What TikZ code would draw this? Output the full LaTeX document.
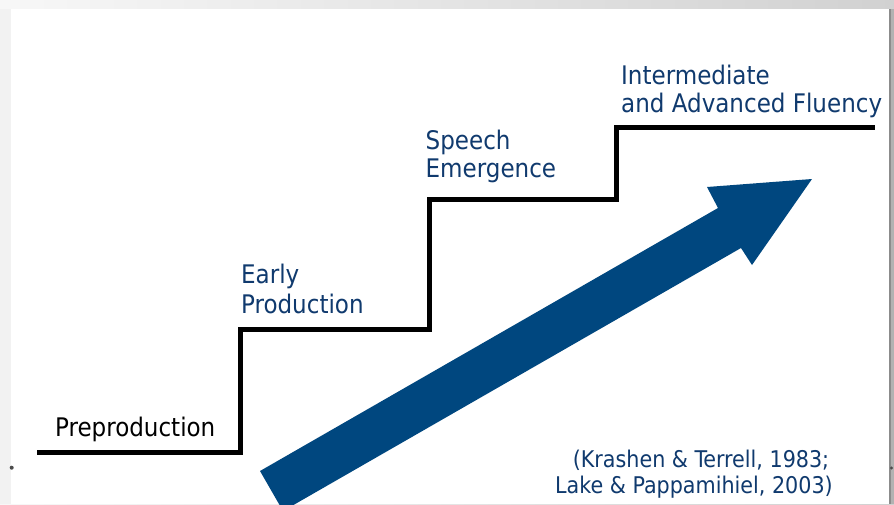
\documentclass[tikz,border=0pt]{standalone}
\usepackage{fontspec}
\setmainfont{DejaVu Sans Condensed}
\definecolor{navy}{RGB}{16,58,110}
\definecolor{arrowblue}{RGB}{0,71,127}
\begin{document}
\begin{tikzpicture}[x=1pt,y=-1pt,
  lbl/.style={font=\fontsize{25.6}{30}\selectfont, text=navy, anchor=base west, inner sep=0pt},
  cite/.style={font=\fontsize{23}{27}\selectfont, text=navy, anchor=base, inner sep=0pt},
  stair/.style={line width=5pt, black, line join=miter}]
\useasboundingbox (0,0) rectangle (894,504);
% slide frame
\shade[left color=black!3, right color=black!18] (0,0) rectangle (894,504);
\fill[black!5] (0,9) rectangle (11,504);
\fill[white] (11,9) rectangle (889,504);
\fill[black!45] (889,9) rectangle (890.5,504);
\fill[black!30] (890.5,9) rectangle (894,504);
\fill[black!70] (11.7,467.7) circle (2);
\fill[black!70] (891.5,468) circle (1.6);
% big arrow
\begin{scope}
\clip (11,9) rectangle (889,504);
\fill[arrowblue] (260,471) -- (718,208) -- (707,187) -- (812,179) -- (752,265)
  -- (741,248) -- (283,511) -- cycle;
\end{scope}
% stairs
\draw[stair] (37,452) -| (240.5,329.5) -| (429.5,199.5) -| (616,127.5) -- (875,127.5);
% labels
\node[lbl, text=black] (pre) at (55,436) {Preproduction};
\node[lbl] (early1) at (241,283) {Early};
\node[lbl] (early2) at (241,313) {Production};
\node[lbl] (speech1) at (425.5,149) {Speech};
\node[lbl] (speech2) at (425.5,177) {Emergence};
\node[lbl] (inter1) at (621,84) {Intermediate};
\node[lbl] (inter2) at (621,112) {and Advanced Fluency};
\node[cite] (cite1) at (701,467) {(Krashen \& Terrell, 1983;};
\node[cite] (cite2) at (694,493) {Lake \& Pappamihiel, 2003)};
\end{tikzpicture}
\end{document}
